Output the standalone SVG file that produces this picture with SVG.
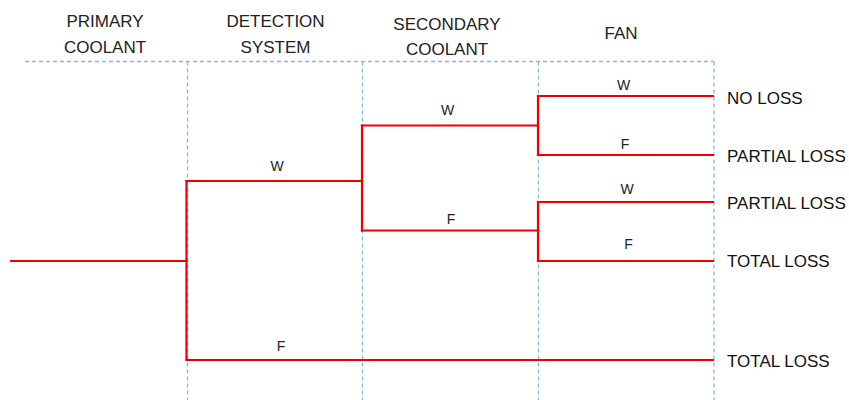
<svg xmlns="http://www.w3.org/2000/svg" width="849" height="400" viewBox="0 0 849 400">
<style>
.grid{stroke:#8ab6e4;stroke-width:1.3;stroke-dasharray:4 3;fill:none}
.br{stroke:#f00000;stroke-width:2.2;fill:none;stroke-linecap:square}
.hd{font-family:"Liberation Sans",Arial,sans-serif;font-size:17px;fill:#222;text-anchor:middle}
.lb{font-family:"Liberation Sans",Arial,sans-serif;font-size:14px;fill:#222;text-anchor:middle}
.out{font-family:"Liberation Sans",Arial,sans-serif;font-size:17px;fill:#111}
</style>
<rect width="849" height="400" fill="#fff"/>
<g id="grid">
<path class="grid" d="M25 61.5H714M187.5 61.5V400M362.5 61.5V400M538.5 61.5V400M714 61.5V400"/>
</g>
<g id="headers">
<text class="hd" x="105" y="27">PRIMARY</text>
<text class="hd" x="105" y="53">COOLANT</text>
<text class="hd" x="275.5" y="27">DETECTION</text>
<text class="hd" x="275.5" y="53">SYSTEM</text>
<text class="hd" x="447" y="30">SECONDARY</text>
<text class="hd" x="447" y="55">COOLANT</text>
<text class="hd" x="621" y="39">FAN</text>
</g>
<g id="connectors">
<path class="br" d="M11 261H186.5"/>
<path class="br" d="M186.5 181V360"/>
<path class="br" d="M186.5 181H362"/>
<path class="br" d="M186.5 360H713"/>
<path class="br" d="M362 125.5V230.5"/>
<path class="br" d="M362 125.5H538"/>
<path class="br" d="M362 230.5H538"/>
<path class="br" d="M538 96V155"/>
<path class="br" d="M538 96H713"/>
<path class="br" d="M538 155H713"/>
<path class="br" d="M538 202V261"/>
<path class="br" d="M538 202H713"/>
<path class="br" d="M538 261H713"/>
</g>
<g id="labels">
<text class="lb" x="277" y="170.5">W</text>
<text class="lb" x="281" y="350.5">F</text>
<text class="lb" x="447.5" y="114.5">W</text>
<text class="lb" x="451" y="224">F</text>
<text class="lb" x="623.5" y="89.5">W</text>
<text class="lb" x="625" y="149">F</text>
<text class="lb" x="627" y="193.5">W</text>
<text class="lb" x="628.5" y="249">F</text>
</g>
<g id="outcome-1"><text class="out" x="727" y="103.5">NO LOSS</text></g>
<g id="outcome-2"><text class="out" x="727" y="161.5">PARTIAL LOSS</text></g>
<g id="outcome-3"><text class="out" x="727" y="209">PARTIAL LOSS</text></g>
<g id="outcome-4"><text class="out" x="727" y="267.3">TOTAL LOSS</text></g>
<g id="outcome-5"><text class="out" x="727" y="367.3">TOTAL LOSS</text></g>
</svg>
